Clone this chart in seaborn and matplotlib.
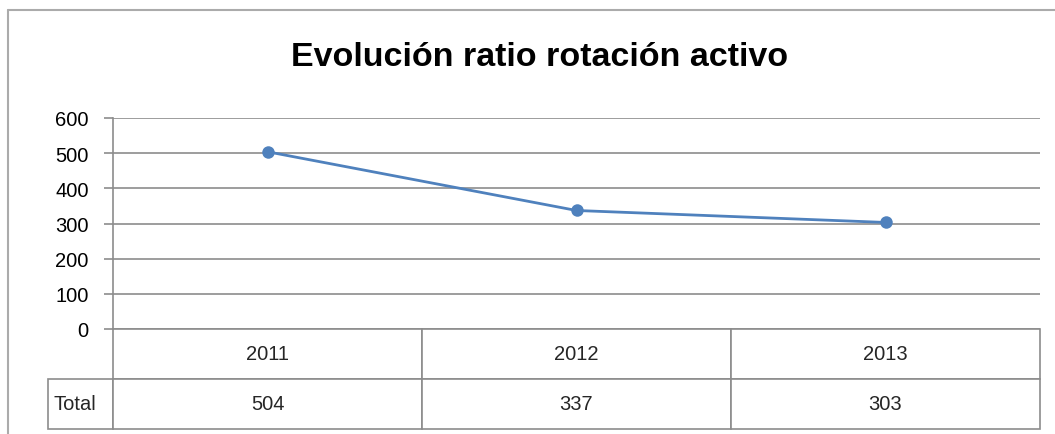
import pandas as pd
import matplotlib.pyplot as plt
import seaborn as sns
from matplotlib.lines import Line2D
from matplotlib.table import Table

# data
YEARS = ["2011", "2012", "2013"]
TOTALS = [504, 337, 303]
ROW_LABEL = "Total"
Y_TICKS = [0, 100, 200, 300, 400, 500, 600]
TITLE = "Evolución ratio rotación activo"

LINE_COLOR = "#4F81BD"
GRID_COLOR = "#8C8C8C"
FRAME_COLOR = "#ABABAB"

W, H = 1055, 435


def fx(px):
    return px / W


def fy(py):
    return 1 - py / H


sns.set_style("white")
plt.rcParams["font.family"] = ["Liberation Sans", "DejaVu Sans"]

df = pd.DataFrame({"year": YEARS, "total": TOTALS})

fig = plt.figure(figsize=(W / 100, H / 100), dpi=100)
ax_left, ax_right, ax_top, ax_bottom = 113, 1040, 119, 330
ax_w = ax_right - ax_left
ax_h = ax_bottom - ax_top
ax = fig.add_axes([fx(ax_left), fy(ax_bottom), fx(ax_w), ax_h / H])

sns.lineplot(data=df, x="year", y="total", ax=ax, color=LINE_COLOR,
             linewidth=2.0, marker="o", markersize=9, markeredgewidth=0, sort=False)

ax.set_xlim(-0.5, len(YEARS) - 0.5)
ax.set_ylim(Y_TICKS[0], Y_TICKS[-1])
ax.set_yticks(Y_TICKS)
ax.set_xticks([])
ax.set_xlabel("")
ax.set_ylabel("")
ax.yaxis.grid(True, color=GRID_COLOR, linewidth=1.2)
ax.set_axisbelow(True)
for side in ["top", "right", "bottom"]:
    ax.spines[side].set_visible(False)
ax.spines["left"].set_color(GRID_COLOR)
ax.spines["left"].set_linewidth(1.2)
ax.tick_params(axis="y", length=6.5, width=1.2, color=GRID_COLOR, pad=11,
               labelsize=14.5, labelcolor="#000000", left=True)

# data table under the plot, Excel style (cells in axes fractions)
tab_left, tab_bottom = 48, 430
col_w = 1 / len(YEARS)
label_w = (ax_left - tab_left) / ax_w
row_h = (tab_bottom - ax_bottom) / ax_h / 2

table = Table(ax, loc=None)
for j, year in enumerate(YEARS):
    table.add_cell(0, j, width=col_w, height=row_h, text=year, loc="center")
    table.add_cell(1, j, width=col_w, height=row_h, text=str(TOTALS[j]), loc="center")
table.add_cell(1, -1, width=label_w, height=row_h, text=ROW_LABEL, loc="left")
table.auto_set_font_size(False)
table.set_fontsize(14.5)
for (r, c), cell in table.get_celld().items():
    cell.set_edgecolor(GRID_COLOR)
    cell.set_linewidth(1.2)
    cell.set_facecolor("white")
    cell.PAD = 0.08 if c == -1 else 0.1
# bbox covers the main grid only; the row label cell hangs to the left
table._bbox = [0, -2 * row_h, 1, 2 * row_h]
ax.add_table(table)

fig.text(fx(540), fy(58), TITLE, ha="center", va="center",
         fontsize=24.5, fontweight="bold", color="#000000")

# outer chart frame (left and top edges visible in the crop)
fig.add_artist(Line2D([fx(8), fx(8)], [fy(11), 0], color=FRAME_COLOR, linewidth=1.5))
fig.add_artist(Line2D([fx(8), 1], [fy(11), fy(11)], color=FRAME_COLOR, linewidth=1.5))

fig.savefig("out.png", dpi=100)
